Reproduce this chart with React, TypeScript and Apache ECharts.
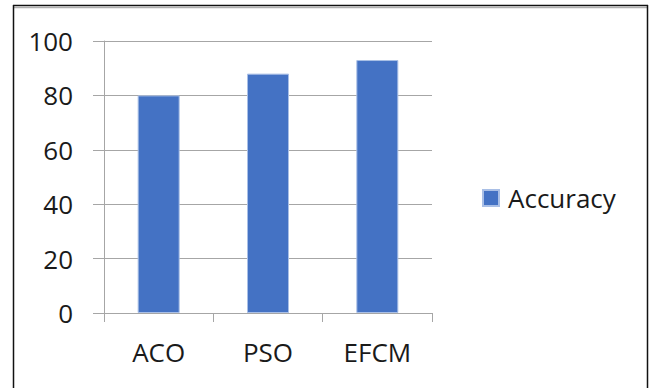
import React, { useEffect, useRef } from "react";
import * as echarts from "echarts";

const categories = ["ACO", "PSO", "EFCM"];
const accuracy = [80, 88, 93];
const seriesName = "Accuracy";
const yTicks = { min: 0, max: 100, interval: 20 };

const FONT = "'Open Sans', 'Noto Sans', sans-serif";
const TEXT = "#1a1a1a";
const GRID = "#a6a6a6";

export default function App() {
  const ref = useRef<HTMLDivElement>(null);

  useEffect(() => {
    if (!ref.current) return;
    const chart = echarts.init(ref.current, null, { renderer: "svg" });
    chart.setOption({
      animation: false,
      backgroundColor: "#ffffff",
      textStyle: { fontFamily: FONT },
      grid: { left: 104, right: 219, top: 41, bottom: 75, containLabel: false },
      legend: {
        data: [seriesName],
        orient: "vertical",
        left: 482,
        top: 185,
        padding: 0,
        icon: "rect",
        itemWidth: 16,
        itemHeight: 16,
        textStyle: { fontFamily: FONT, fontSize: 26, color: TEXT, padding: [0, 0, 0, 4] },
      },
      xAxis: {
        type: "category",
        data: categories,
        axisLine: { show: true, lineStyle: { color: GRID, width: 1 } },
        axisTick: { show: true, length: 9, lineStyle: { color: GRID } },
        axisLabel: { margin: 26, fontFamily: FONT, fontSize: 26, color: TEXT },
        splitLine: { show: false },
      },
      yAxis: {
        type: "value",
        min: yTicks.min,
        max: yTicks.max,
        interval: yTicks.interval,
        axisLine: { show: true, lineStyle: { color: GRID, width: 1 } },
        axisTick: { show: true, length: 11, lineStyle: { color: GRID } },
        axisLabel: { margin: 31, fontFamily: FONT, fontSize: 26, color: TEXT },
        splitLine: { show: true, lineStyle: { color: GRID, width: 1 } },
      },
      series: [
        {
          name: seriesName,
          type: "bar",
          data: accuracy,
          barWidth: 42,
          itemStyle: { color: "#4472c4", borderColor: "#a9bfe6", borderWidth: 1 },
        },
      ],
      graphic: [
        {
          type: "line",
          shape: { x1: 13, y1: 5.5, x2: 648, y2: 5.5 },
          style: { stroke: "#111111", lineWidth: 1.5 },
          silent: true,
        },
        {
          type: "line",
          shape: { x1: 14, y1: 7.5, x2: 647, y2: 7.5 },
          style: { stroke: "#b0b0b0", lineWidth: 1.5 },
          silent: true,
        },
        {
          type: "line",
          shape: { x1: 13.5, y1: 5, x2: 13.5, y2: 388 },
          style: { stroke: "#111111", lineWidth: 1.5 },
          silent: true,
        },
        {
          type: "line",
          shape: { x1: 647.5, y1: 5, x2: 647.5, y2: 388 },
          style: { stroke: "#111111", lineWidth: 1.5 },
          silent: true,
        },
      ],
    });
    return () => chart.dispose();
  }, []);

  return (
    <div
      ref={ref}
      style={{ position: "absolute", left: 0, top: 0, width: 651, height: 388 }}
    />
  );
}
